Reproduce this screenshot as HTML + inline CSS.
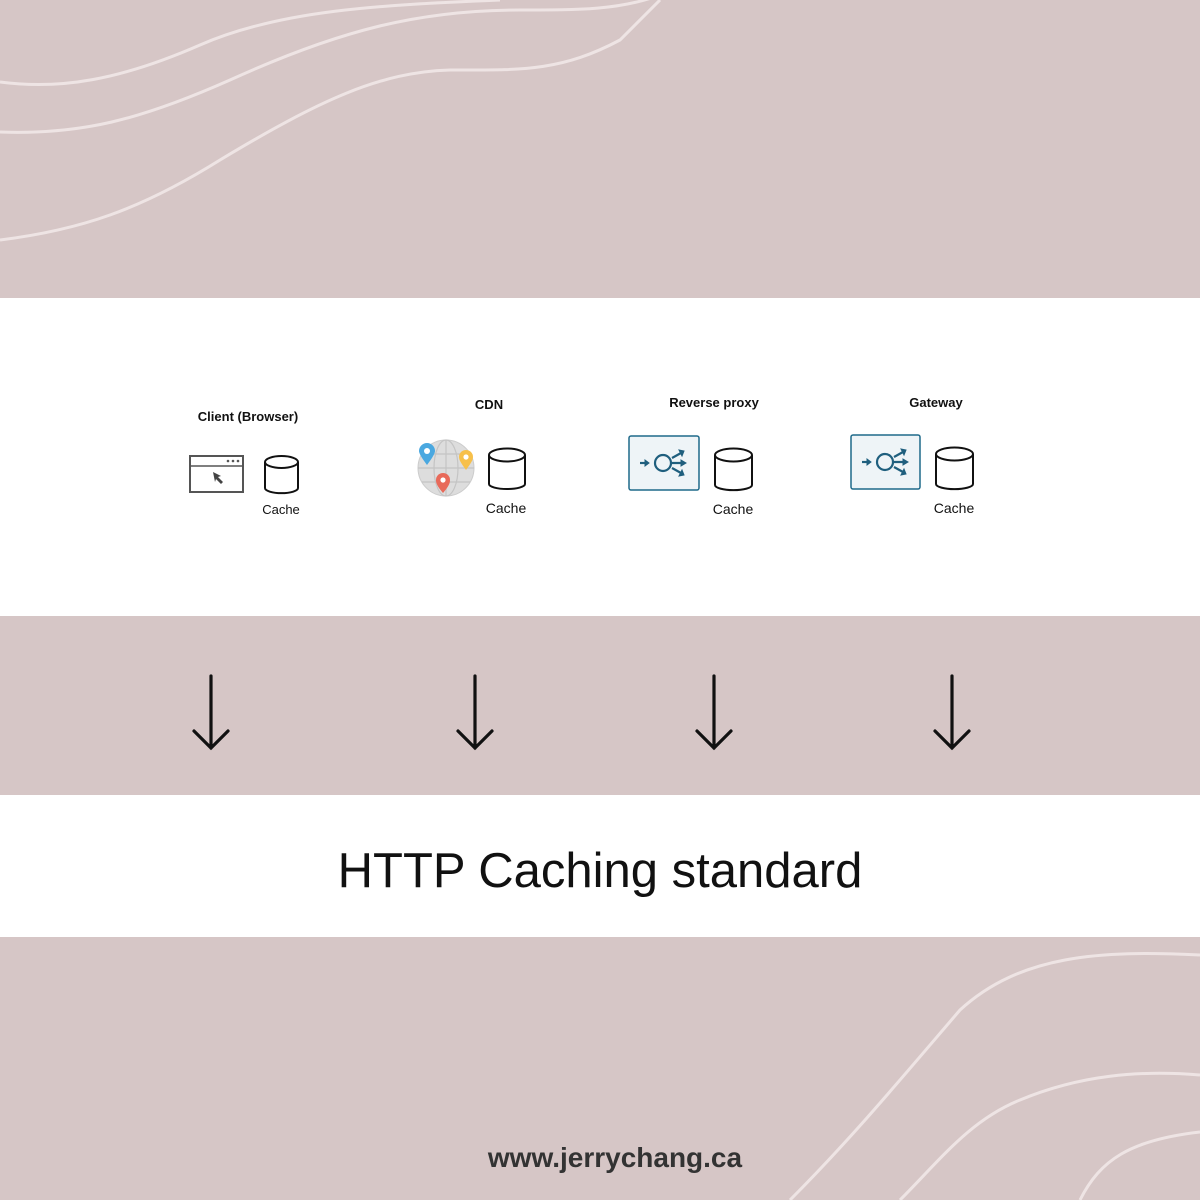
<!DOCTYPE html>
<html><head><style>
body{margin:0;width:1200px;height:1200px;position:relative;background:#d6c6c6;font-family:"Liberation Sans",sans-serif;overflow:hidden}
.w{position:absolute;left:0;width:1200px;background:#fff}
.t{position:absolute;font-size:13px;font-weight:bold;color:#111;transform:translateX(-50%);white-space:nowrap}
.c{position:absolute;font-size:14px;color:#111;transform:translateX(-50%)}
</style></head><body>
<svg width="1200" height="1200" style="position:absolute;left:0;top:0" fill="none" stroke="#eee4e4" stroke-width="3">
<path d="M0 82 C60 90 120 80 200 45 C280 10 380 5 500 0"/>
<path d="M0 132 C80 135 140 120 230 80 C340 30 420 10 520 10 C580 10 620 10 660 -5"/>
<path d="M0 240 C80 230 140 210 220 160 C320 100 380 72 450 70 C520 70 560 72 620 40 L660 0"/>
<path d="M790 1200 C850 1140 900 1080 960 1010 C1020 955 1100 950 1200 955"/>
<path d="M900 1200 C940 1160 970 1120 1020 1100 C1080 1075 1140 1070 1200 1075"/>
<path d="M1080 1200 C1100 1160 1130 1140 1200 1132"/>
</svg>
<div class="w" style="top:298px;height:318px"></div>
<div class="w" style="top:795px;height:142px"></div>

<div class="t" style="left:248px;top:409px">Client (Browser)</div>
<div class="t" style="left:489px;top:397px">CDN</div>
<div class="t" style="left:714px;top:395px">Reverse proxy</div>
<div class="t" style="left:936px;top:395px">Gateway</div>
<div class="c" style="left:281px;top:502px;font-size:13px">Cache</div>
<div class="c" style="left:506px;top:500px">Cache</div>
<div class="c" style="left:733px;top:501px">Cache</div>
<div class="c" style="left:954px;top:500px">Cache</div>

<svg width="1200" height="1200" style="position:absolute;left:0;top:0" fill="none">
<rect x="190" y="456" width="53" height="36" stroke="#555" stroke-width="2"/>
<line x1="190" y1="466" x2="243" y2="466" stroke="#555" stroke-width="1.5"/>
<circle cx="228" cy="461" r="1.3" fill="#555"/><circle cx="233" cy="461" r="1.3" fill="#555"/><circle cx="238" cy="461" r="1.3" fill="#555"/>
<path d="M213 472 L221 476 L218 477 L223 482 L221 484 L216 479 L215 482 Z" fill="#444"/>
<g stroke="#111" stroke-width="2">
<path d="M265 462 V488 A16 5 0 0 0 298 488 V462"/><ellipse cx="281.5" cy="462" rx="16.5" ry="6"/>
<path d="M489 455 V484 A18 5 0 0 0 525 484 V455"/><ellipse cx="507" cy="455" rx="18" ry="6.5"/>
<path d="M715 455 V485 A18 5 0 0 0 752 485 V455"/><ellipse cx="733.5" cy="455" rx="18.5" ry="6.5"/>
<path d="M936 454 V484 A18 5 0 0 0 973 484 V454"/><ellipse cx="954.5" cy="454" rx="18.5" ry="6.5"/>
</g>
<circle cx="446" cy="468" r="28" fill="#ddd" stroke="#ccc"/>
<g stroke="#c4c4c4" stroke-width="1.2"><ellipse cx="446" cy="468" rx="12" ry="28"/><line x1="418" y1="468" x2="474" y2="468"/><line x1="446" y1="440" x2="446" y2="496"/><path d="M422 454 H470 M422 482 H470"/></g>
<path d="M427 465 C421 457 419 453 419 451 A8 8 0 0 1 435 451 C435 453 433 457 427 465Z" fill="#4aa8e0"/><circle cx="427" cy="451" r="3" fill="#fff"/>
<path d="M466 470 C461 463 459 460 459 457 A7 7 0 0 1 473 457 C473 460 471 463 466 470Z" fill="#f7c04a"/><circle cx="466" cy="457" r="2.6" fill="#fff"/>
<path d="M443 493 C437 486 436 483 436 480 A7 7 0 0 1 450 480 C450 483 449 486 443 493Z" fill="#e86a5a"/><circle cx="443" cy="480" r="2.6" fill="#fff"/>
<g stroke="#1f6a8a" stroke-width="1.5" fill="#eef4f7"><rect x="629" y="436" width="70" height="54" rx="2"/><rect x="851" y="435" width="69" height="54" rx="2"/></g>
<g id="px" stroke="#1f5f7e" stroke-width="2.2" fill="none">
<path d="M640 463 H647"/><path d="M645 460 L649 463 L645 466 Z" fill="#1f5f7e" stroke-width="1"/>
<circle cx="663" cy="463" r="8"/>
<path d="M672 458 L681 453 M672 463 H683 M672 468 L681 473"/>
<path d="M679 450 L684 451 L682 456 Z M681 460 L686 463 L681 466 Z M679 476 L684 475 L682 470 Z" fill="#1f5f7e" stroke-width="1"/>
</g>
<use href="#px" transform="translate(222,-1)"/>
<g stroke="#111" stroke-width="3.2" fill="none" stroke-linecap="round">
<path d="M211 676 V748 M194 731 L211 748 L228 731"/>
<path d="M475 676 V748 M458 731 L475 748 L492 731"/>
<path d="M714 676 V748 M697 731 L714 748 L731 731"/>
<path d="M952 676 V748 M935 731 L952 748 L969 731"/>
</g>
</svg>
<div style="position:absolute;left:0;width:1200px;top:843px;text-align:center;font-size:49px;color:#111">HTTP Caching standard</div>
<div style="position:absolute;left:615px;top:1142px;transform:translateX(-50%);font-size:28px;font-weight:bold;color:#333">www.jerrychang.ca</div>
</body></html>
